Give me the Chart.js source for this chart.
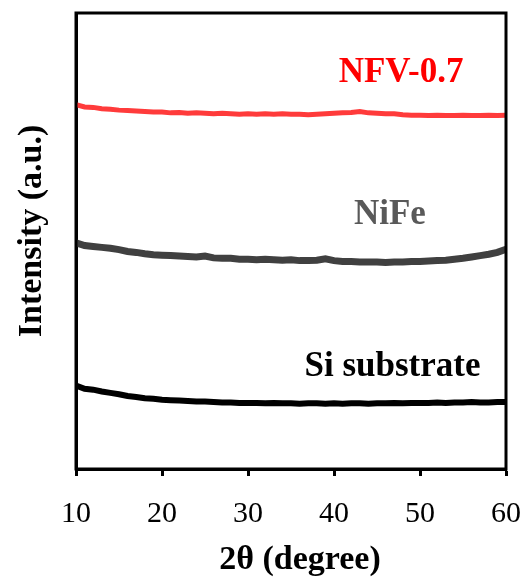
<!DOCTYPE html>
<html>
<head>
<meta charset="utf-8">
<script src="https://cdn.jsdelivr.net/npm/chart.js@4"></script>
<style>
  html, body { margin: 0; padding: 0; background: #fff; }
  #wrap { width: 527px; height: 579px; }
</style>
</head>
<body>
<div id="wrap"><canvas id="xrd" width="527" height="579"></canvas></div>
<script>
    // 2theta positions (degree)
    const twoTheta = [10, 11, 12, 13, 14, 15, 16, 17, 18, 19, 20, 21, 22, 23, 24, 25, 26, 27, 28, 29,
        30, 31, 32, 33, 34, 35, 36, 37, 38, 39, 40, 41, 42, 43, 44, 45, 46, 47, 48, 49,
        50, 51, 52, 53, 54, 55, 56, 57, 58, 59, 60];

    // intensities (a.u., offset stacked)
    const nfvIntensity = [79.9, 79.4, 79.3, 79.0, 78.9, 78.7, 78.6, 78.5, 78.4, 78.3,
        78.3, 78.1, 78.2, 78.0, 78.1, 78.0, 77.9, 78.0, 77.9, 77.8,
        77.9, 77.8, 77.9, 77.8, 77.9, 77.8, 77.8, 77.7, 77.8, 77.9,
        78.0, 78.1, 78.2, 78.4, 78.1, 78.0, 77.9, 77.9, 77.7, 77.6,
        77.6, 77.5, 77.6, 77.5, 77.5, 77.6, 77.5, 77.5, 77.6, 77.5, 77.6];

    const nifeIntensity = [49.6, 49.0, 48.8, 48.6, 48.4, 48.1, 47.7, 47.5, 47.2, 47.0,
        46.9, 46.8, 46.7, 46.6, 46.5, 46.7, 46.3, 46.2, 46.2, 46.0,
        46.0, 45.9, 46.0, 45.9, 45.8, 45.9, 45.7, 45.7, 45.8, 46.1,
        45.7, 45.5, 45.5, 45.4, 45.4, 45.4, 45.3, 45.4, 45.4, 45.5,
        45.5, 45.6, 45.7, 45.8, 46.0, 46.2, 46.5, 46.8, 47.1, 47.5, 48.2];

    const siIntensity = [18.3, 17.6, 17.4, 17.0, 16.7, 16.4, 16.0, 15.8, 15.5, 15.4,
        15.2, 15.1, 15.0, 14.9, 14.8, 14.8, 14.7, 14.6, 14.6, 14.5,
        14.5, 14.5, 14.4, 14.5, 14.4, 14.4, 14.3, 14.4, 14.4, 14.3,
        14.4, 14.3, 14.4, 14.4, 14.3, 14.4, 14.4, 14.5, 14.4, 14.5,
        14.5, 14.5, 14.6, 14.5, 14.6, 14.6, 14.7, 14.6, 14.6, 14.7, 14.7];

    const xTicks = [10, 20, 30, 40, 50, 60];

    // sample labels, placed in data coordinates
    const sampleLabels = [
        { text: 'NFV-0.7', x: 47.8, y: 86.8, color: '#ff0000' },
        { text: 'NiFe', x: 46.5, y: 55.7, color: '#595959' },
        { text: 'Si substrate', x: 46.8, y: 22.4, color: '#000000' }
    ];

    const serif = "'Liberation Serif', 'Times New Roman', serif";

    const frameAndText = {
        id: 'frameAndText',
        afterDraw(chart) {
            const ctx = chart.ctx;
            const a = chart.chartArea;
            const xs = chart.scales.x;
            const ys = chart.scales.y;
            ctx.save();
            ctx.strokeStyle = '#000';
            ctx.lineWidth = 3;
            ctx.strokeRect(a.left, a.top, a.right - a.left, a.bottom - a.top);

            ctx.textAlign = 'center';
            ctx.textBaseline = 'middle';
            ctx.font = 'bold 35px ' + serif;
            sampleLabels.forEach(l => {
                ctx.fillStyle = l.color;
                ctx.fillText(l.text, xs.getPixelForValue(l.x), ys.getPixelForValue(l.y));
            });

            ctx.fillStyle = '#000';
            ctx.font = 'bold 34px ' + serif;
            ctx.fillText('2θ (degree)', 300, 560);

            ctx.translate(32, 231);
            ctx.rotate(-Math.PI / 2);
            ctx.fillText('Intensity (a.u.)', 0, 0);
            ctx.restore();
        }
    };

    const series = (data, color, width) => ({
        data: twoTheta.map((t, i) => ({ x: t, y: data[i] })),
        borderColor: color,
        borderWidth: width,
        pointRadius: 0,
        tension: 0,
        fill: false
    });

    new Chart(document.getElementById('xrd'), {
        type: 'line',
        data: {
            datasets: [
                series(nfvIntensity, '#ff3b3b', 5),
                series(nifeIntensity, '#404040', 7),
                series(siIntensity, '#000000', 6)
            ]
        },
        options: {
            responsive: false,
            animation: false,
            layout: { padding: { left: 0, right: 21, top: 13, bottom: 0 } },
            plugins: { legend: { display: false }, tooltip: { enabled: false } },
            scales: {
                x: {
                    type: 'linear',
                    min: 10,
                    max: 60,
                    afterBuildTicks: s => { s.ticks = xTicks.map(v => ({ value: v })); },
                    afterFit: s => { s.height = 110; s.paddingLeft = 0; s.paddingRight = 0; },
                    border: { display: true, color: '#000', width: 3 },
                    grid: { drawOnChartArea: false, drawTicks: true, tickLength: 7, tickWidth: 3, color: '#000' },
                    ticks: { color: '#000', padding: 20, maxRotation: 0, font: { family: serif, size: 30 } }
                },
                y: {
                    min: 0,
                    max: 100,
                    afterFit: s => { s.width = 76; },
                    border: { display: true, color: '#000', width: 3 },
                    grid: { display: false },
                    ticks: { display: false }
                }
            }
        },
        plugins: [frameAndText]
    });
</script>
</body>
</html>
